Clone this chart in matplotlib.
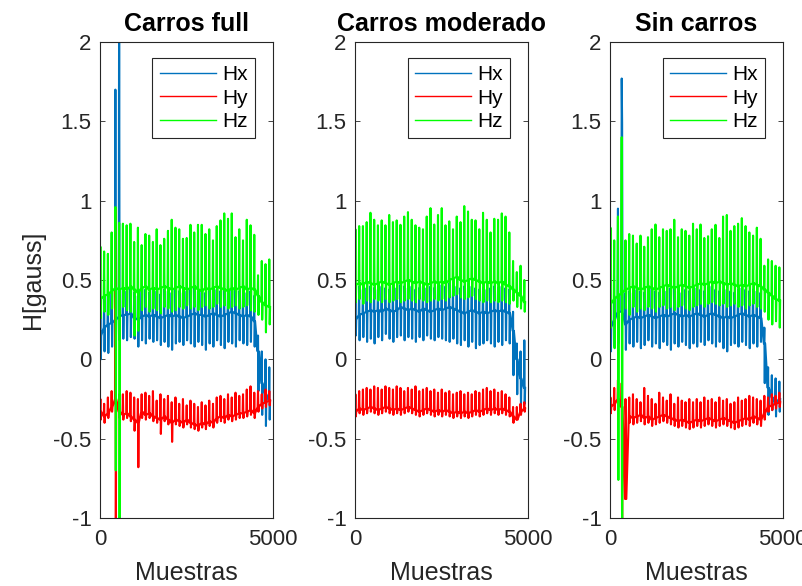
import matplotlib.pyplot as plt
import numpy as np

plt.rcParams['font.family'] = ['Liberation Sans', 'DejaVu Sans']
plt.rcParams['axes.unicode_minus'] = False

# Each series is stored per cycle: baseline, spike top and spike bottom.
# 46 cycles per run.

# --- Carros full ---
full_hx_base = [0.15, 0.20, 0.22, 0.23, 0.25, 0.27, 0.28, 0.28, 0.29, 0.26, 0.25, 0.27, 0.28, 0.27, 0.28, 0.27,
                0.26, 0.27, 0.28, 0.27, 0.28, 0.27, 0.26, 0.27, 0.28, 0.29, 0.28, 0.28, 0.27, 0.28, 0.29, 0.28,
                0.27, 0.28, 0.29, 0.30, 0.29, 0.28, 0.27, 0.28, 0.27, 0.24, 0.05, -0.15, -0.22, -0.26]
full_hx_pico = [0.35, 0.38, 0.40, 0.42, 1.70, 2.50, 0.44, 0.43, 0.45, 0.42, 0.40, 0.43, 0.44, 0.42, 0.45, 0.43,
                0.41, 0.44, 0.43, 0.42, 0.44, 0.43, 0.42, 0.43, 0.44, 0.45, 0.43, 0.44, 0.42, 0.44, 0.45, 0.44,
                0.43, 0.44, 0.46, 0.45, 0.44, 0.43, 0.44, 0.42, 0.43, 0.40, 0.15, 0.05, 0.00, -0.05]
full_hx_valle = [0.00, 0.05, 0.04, 0.08, 0.10, 0.12, 0.13, 0.12, 0.14, 0.13, 0.08, 0.12, 0.10, 0.13, 0.11, 0.12,
                 0.09, 0.11, 0.08, 0.06, 0.10, 0.11, 0.09, 0.12, 0.10, 0.08, 0.11, 0.09, 0.06, 0.10, 0.08, 0.12,
                 0.09, 0.07, 0.11, 0.10, 0.08, 0.12, 0.10, 0.09, 0.11, 0.08, -0.20, -0.35, -0.42, -0.38]
full_hy_base = [-0.33, -0.36, -0.34, -0.30, -0.25, -0.33, -0.35, -0.34, -0.36, -0.38, -0.40, -0.33, -0.35, -0.34,
                -0.36, -0.37, -0.38, -0.36, -0.38, -0.40, -0.38, -0.39, -0.40, -0.38, -0.40, -0.41, -0.42, -0.40,
                -0.41, -0.39, -0.40, -0.37, -0.36, -0.37, -0.35, -0.36, -0.35, -0.34, -0.34, -0.33, -0.32, -0.34,
                -0.30, -0.28, -0.27, -0.26]
full_hy_pico = [-0.25, -0.28, -0.24, -0.20, 0.95, -0.22, -0.22, -0.20, -0.21, -0.24, -0.25, -0.22, -0.21, -0.23,
                -0.20, -0.26, -0.22, -0.25, -0.23, -0.27, -0.24, -0.28, -0.25, -0.29, -0.26, -0.28, -0.30, -0.27,
                -0.29, -0.26, -0.28, -0.24, -0.23, -0.25, -0.22, -0.24, -0.21, -0.23, -0.22, -0.19, -0.17, -0.21,
                -0.20, -0.22, -0.19, -0.20]
full_hy_valle = [-0.38, -0.40, -0.37, -0.33, -1.20, -0.37, -0.38, -0.37, -0.39, -0.45, -0.68, -0.37, -0.38, -0.37,
                 -0.39, -0.40, -0.47, -0.39, -0.41, -0.52, -0.41, -0.42, -0.43, -0.41, -0.43, -0.44, -0.45, -0.43,
                 -0.44, -0.42, -0.43, -0.40, -0.39, -0.40, -0.38, -0.39, -0.38, -0.37, -0.37, -0.36, -0.35, -0.37,
                 -0.33, -0.31, -0.30, -0.29]
full_hz_base = [0.38, 0.40, 0.41, 0.43, 0.45, 0.44, 0.45, 0.44, 0.46, 0.44, 0.42, 0.45, 0.46, 0.44, 0.45, 0.44,
                0.45, 0.46, 0.45, 0.44, 0.45, 0.46, 0.45, 0.44, 0.45, 0.46, 0.44, 0.43, 0.45, 0.44, 0.45, 0.46,
                0.45, 0.44, 0.43, 0.45, 0.44, 0.45, 0.46, 0.44, 0.45, 0.44, 0.40, 0.36, 0.34, 0.33]
full_hz_pico = [0.71, 0.68, 0.665, 0.80, 0.96, 0.86, 0.855, 0.845, 0.855, 0.74, 0.83, 0.72, 0.79, 0.78, 0.74, 0.82,
                0.72, 0.76, 0.81, 0.88, 0.83, 0.82, 0.76, 0.765, 0.848, 0.80, 0.848, 0.848, 0.79, 0.82, 0.75, 0.84,
                0.876, 0.92, 0.886, 0.92, 0.77, 0.82, 0.75, 0.88, 0.845, 0.785, 0.53, 0.62, 0.60, 0.63]
full_hz_valle = [0.26, 0.30, 0.28, 0.32, -0.70, -1.20, 0.33, 0.31, 0.30, 0.15, 0.18, 0.31, 0.33, 0.30, 0.32, 0.31,
                 0.29, 0.33, 0.32, 0.30, 0.31, 0.33, 0.32, 0.34, 0.32, 0.33, 0.31, 0.33, 0.34, 0.32, 0.33, 0.35,
                 0.33, 0.34, 0.32, 0.33, 0.34, 0.32, 0.33, 0.34, 0.31, 0.30, 0.28, 0.25, 0.17, 0.22]

# --- Carros moderado ---
mod_hx_base = [0.25, 0.28, 0.29, 0.30, 0.31, 0.30, 0.31, 0.30, 0.32, 0.31, 0.30, 0.31, 0.33, 0.32, 0.31, 0.32,
               0.31, 0.30, 0.32, 0.31, 0.30, 0.31, 0.32, 0.31, 0.32, 0.33, 0.32, 0.31, 0.30, 0.29, 0.30, 0.31,
               0.30, 0.29, 0.30, 0.29, 0.30, 0.31, 0.30, 0.31, 0.30, 0.29, 0.18, 0.00, -0.12, -0.18]
mod_hx_pico = [0.45, 0.46, 0.44, 0.45, 0.46, 0.45, 0.44, 0.46, 0.45, 0.44, 0.46, 0.45, 0.47, 0.46, 0.45, 0.46,
               0.44, 0.45, 0.46, 0.45, 0.46, 0.45, 0.46, 0.47, 0.46, 0.48, 0.47, 0.46, 0.45, 0.46, 0.45, 0.46,
               0.45, 0.44, 0.45, 0.44, 0.45, 0.46, 0.45, 0.46, 0.45, 0.44, 0.30, 0.10, 0.05, 0.12]
mod_hx_valle = [0.15, 0.12, 0.14, 0.11, 0.13, 0.10, 0.14, 0.12, 0.16, 0.13, 0.11, 0.14, 0.15, 0.12, 0.14, 0.13,
                0.11, 0.14, 0.12, 0.15, 0.13, 0.12, 0.14, 0.13, 0.12, 0.11, 0.13, 0.10, 0.09, 0.12, 0.08, 0.11,
                0.07, 0.09, 0.10, 0.12, 0.10, 0.08, 0.11, 0.09, 0.12, 0.10, -0.10, -0.22, -0.30, -0.28]
mod_hy_base = [-0.33, -0.31, -0.32, -0.31, -0.30, -0.31, -0.32, -0.31, -0.30, -0.31, -0.32, -0.31, -0.32, -0.31,
               -0.30, -0.31, -0.32, -0.33, -0.32, -0.31, -0.32, -0.33, -0.32, -0.33, -0.32, -0.33, -0.34, -0.33,
               -0.34, -0.33, -0.34, -0.33, -0.32, -0.33, -0.32, -0.31, -0.32, -0.31, -0.32, -0.31, -0.32, -0.33,
               -0.36, -0.38, -0.33, -0.31]
mod_hy_pico = [-0.22, -0.20, -0.19, -0.18, -0.19, -0.17, -0.18, -0.19, -0.17, -0.18, -0.19, -0.17, -0.18, -0.20,
               -0.18, -0.19, -0.17, -0.20, -0.19, -0.18, -0.20, -0.19, -0.21, -0.19, -0.21, -0.20, -0.22, -0.21,
               -0.20, -0.22, -0.21, -0.22, -0.20, -0.21, -0.19, -0.18, -0.20, -0.19, -0.21, -0.20, -0.22, -0.24,
               -0.30, -0.30, -0.28, -0.27]
mod_hy_valle = [-0.36, -0.34, -0.35, -0.34, -0.33, -0.34, -0.35, -0.34, -0.33, -0.34, -0.35, -0.34, -0.35, -0.34,
                -0.33, -0.34, -0.35, -0.36, -0.35, -0.34, -0.35, -0.36, -0.35, -0.36, -0.35, -0.36, -0.37, -0.36,
                -0.37, -0.36, -0.37, -0.36, -0.35, -0.36, -0.35, -0.34, -0.35, -0.34, -0.35, -0.34, -0.35, -0.36,
                -0.40, -0.38, -0.35, -0.33]
mod_hz_base = [0.47, 0.48, 0.47, 0.49, 0.48, 0.47, 0.48, 0.49, 0.48, 0.47, 0.48, 0.49, 0.48, 0.49, 0.50, 0.49,
               0.48, 0.49, 0.48, 0.47, 0.48, 0.49, 0.48, 0.49, 0.48, 0.50, 0.51, 0.52, 0.50, 0.49, 0.50, 0.51,
               0.50, 0.49, 0.48, 0.49, 0.48, 0.49, 0.48, 0.49, 0.47, 0.46, 0.44, 0.42, 0.40, 0.36]
mod_hz_pico = [0.82, 0.84, 0.84, 0.865, 0.924, 0.88, 0.845, 0.876, 0.845, 0.91, 0.865, 0.876, 0.848, 0.90, 0.928,
               0.88, 0.845, 0.83, 0.82, 0.90, 0.953, 0.85, 0.91, 0.953, 0.845, 0.87, 0.82, 0.90, 0.865, 0.966,
               0.932, 0.88, 0.876, 0.82, 0.924, 0.88, 0.80, 0.886, 0.88, 0.92, 0.90, 0.80, 0.62, 0.55, 0.59, 0.50]
mod_hz_valle = [0.36, 0.38, 0.35, 0.37, 0.36, 0.38, 0.37, 0.36, 0.38, 0.36, 0.37, 0.38, 0.36, 0.37, 0.38, 0.37,
                0.36, 0.38, 0.37, 0.36, 0.37, 0.38, 0.37, 0.38, 0.37, 0.39, 0.40, 0.41, 0.39, 0.38, 0.39, 0.40,
                0.38, 0.37, 0.36, 0.37, 0.36, 0.37, 0.36, 0.37, 0.36, 0.35, 0.37, 0.33, 0.32, 0.30]

# --- Sin carros ---
sin_hx_base = [0.20, 0.25, 0.30, 0.30, 0.22, 0.25, 0.26, 0.27, 0.26, 0.27, 0.28, 0.27, 0.26, 0.27, 0.28, 0.27,
               0.28, 0.29, 0.28, 0.27, 0.28, 0.27, 0.28, 0.29, 0.28, 0.27, 0.28, 0.29, 0.28, 0.27, 0.26, 0.27,
               0.26, 0.27, 0.28, 0.29, 0.28, 0.27, 0.28, 0.27, 0.26, 0.10, -0.18, -0.24, -0.27, -0.25]
sin_hx_pico = [0.35, 0.40, 0.95, 1.77, 0.42, 0.43, 0.42, 0.44, 0.43, 0.42, 0.44, 0.45, 0.43, 0.42, 0.44, 0.43,
               0.45, 0.44, 0.43, 0.42, 0.44, 0.43, 0.44, 0.45, 0.44, 0.43, 0.45, 0.46, 0.44, 0.43, 0.42, 0.44,
               0.43, 0.42, 0.44, 0.45, 0.44, 0.43, 0.44, 0.43, 0.42, 0.20, -0.05, -0.10, -0.12, -0.14]
sin_hx_valle = [0.05, 0.08, 0.10, 1.49, 0.06, 0.10, 0.08, 0.11, 0.07, 0.09, 0.12, 0.08, 0.10, 0.07, 0.11, 0.09,
                0.06, 0.10, 0.08, 0.11, 0.09, 0.07, 0.10, 0.08, 0.11, 0.09, 0.12, 0.10, 0.08, 0.11, 0.07, 0.05,
                0.09, 0.10, 0.08, 0.11, 0.09, 0.07, 0.10, 0.08, 0.11, -0.15, -0.35, -0.32, -0.36, -0.33]
sin_hy_base = [-0.30, -0.28, -0.25, -0.30, -0.88, -0.36, -0.37, -0.36, -0.35, -0.37, -0.36, -0.38, -0.37, -0.36,
               -0.35, -0.36, -0.37, -0.38, -0.39, -0.38, -0.39, -0.40, -0.39, -0.38, -0.39, -0.38, -0.37, -0.38,
               -0.39, -0.38, -0.37, -0.38, -0.39, -0.40, -0.39, -0.38, -0.37, -0.38, -0.36, -0.37, -0.38, -0.34,
               -0.30, -0.29, -0.28, -0.27]
sin_hy_pico = [-0.24, -0.18, -0.13, -0.15, -0.25, -0.24, -0.22, -0.25, -0.27, -0.18, -0.23, -0.25, -0.28, -0.21,
               -0.24, -0.26, -0.22, -0.28, -0.24, -0.26, -0.27, -0.25, -0.27, -0.25, -0.27, -0.24, -0.26, -0.25,
               -0.27, -0.24, -0.26, -0.25, -0.28, -0.27, -0.24, -0.26, -0.25, -0.23, -0.24, -0.25, -0.26, -0.23,
               -0.24, -0.22, -0.23, -0.21]
sin_hy_valle = [-0.34, -0.32, -0.30, -1.20, -0.36, -0.40, -0.41, -0.40, -0.39, -0.41, -0.40, -0.42, -0.41, -0.40,
                -0.39, -0.40, -0.41, -0.42, -0.43, -0.42, -0.43, -0.44, -0.43, -0.42, -0.43, -0.42, -0.41, -0.42,
                -0.43, -0.42, -0.41, -0.42, -0.43, -0.44, -0.43, -0.42, -0.41, -0.42, -0.40, -0.41, -0.42, -0.38,
                -0.33, -0.32, -0.31, -0.30]
sin_hz_base = [0.35, 0.38, 0.40, 0.42, 0.44, 0.45, 0.46, 0.45, 0.44, 0.45, 0.46, 0.45, 0.44, 0.45, 0.46, 0.47,
               0.46, 0.45, 0.46, 0.47, 0.46, 0.45, 0.46, 0.47, 0.48, 0.47, 0.48, 0.49, 0.48, 0.49, 0.48, 0.47,
               0.48, 0.47, 0.46, 0.47, 0.46, 0.47, 0.48, 0.47, 0.46, 0.44, 0.42, 0.40, 0.38, 0.37]
sin_hz_pico = [0.83, 0.75, 0.90, 1.40, 0.75, 0.79, 0.78, 0.73, 0.78, 0.71, 0.77, 0.82, 0.85, 0.77, 0.82, 0.81,
               0.82, 0.88, 0.77, 0.82, 0.81, 0.78, 0.855, 0.82, 0.85, 0.765, 0.776, 0.82, 0.848, 0.765, 0.90,
               0.91, 0.81, 0.84, 0.855, 0.89, 0.84, 0.80, 0.78, 0.83, 0.76, 0.59, 0.63, 0.62, 0.59, 0.58]
sin_hz_valle = [0.20, 0.07, -0.76, -1.20, 0.32, 0.28, 0.33, 0.30, 0.32, 0.31, 0.33, 0.32, 0.30, 0.33, 0.34, 0.32,
                0.33, 0.31, 0.33, 0.34, 0.32, 0.31, 0.33, 0.34, 0.35, 0.33, 0.35, 0.36, 0.35, 0.34, 0.35, 0.33,
                0.34, 0.35, 0.33, 0.34, 0.32, 0.34, 0.35, 0.33, 0.32, 0.30, 0.25, 0.22, 0.24, 0.20]

titulos = ['Carros full', 'Carros moderado', 'Sin carros']
corridas = [
    [(full_hx_base, full_hx_pico, full_hx_valle),
     (full_hy_base, full_hy_pico, full_hy_valle),
     (full_hz_base, full_hz_pico, full_hz_valle)],
    [(mod_hx_base, mod_hx_pico, mod_hx_valle),
     (mod_hy_base, mod_hy_pico, mod_hy_valle),
     (mod_hz_base, mod_hz_pico, mod_hz_valle)],
    [(sin_hx_base, sin_hx_pico, sin_hx_valle),
     (sin_hy_base, sin_hy_pico, sin_hy_valle),
     (sin_hz_base, sin_hz_pico, sin_hz_valle)],
]
etiquetas = ['Hx', 'Hy', 'Hz']
colores = ['#0072BD', '#FF0000', '#00FF00']
periodo = 108.7                      # samples per cycle
desfase = np.array([0, 12, 24, 36])  # sample offsets of the readings inside a cycle


def serie(base, pico, valle):
    base = np.asarray(base)
    # baseline, spike top, spike bottom, back to baseline
    y = np.column_stack([base, pico, valle, base]).ravel()
    x = (np.arange(len(base))[:, None] * periodo + desfase[None, :]).ravel()
    return x, y


fig = plt.figure(figsize=(8.03, 5.86), dpi=100)
izquierdas = [0.1245, 0.4421, 0.7597]
gris = '0.15'

for k, izq in enumerate(izquierdas):
    ax = fig.add_axes([izq, 0.116, 0.2150, 0.8123])
    for (b, p, v), lab, col in zip(corridas[k], etiquetas, colores):
        x, y = serie(b, p, v)
        ax.plot(x, y, color=col, lw=1.5, label=lab)
    ax.set_xlim(0, 5000)
    ax.set_ylim(-1, 2)
    ax.set_xticks([0, 5000])
    ax.set_yticks([-1, -0.5, 0, 0.5, 1, 1.5, 2])
    ax.set_yticklabels(['-1', '-0.5', '0', '0.5', '1', '1.5', '2'])
    ax.tick_params(direction='in', length=3.6, width=0.6, colors=gris,
                   labelsize=16, top=True, right=True, pad=6)
    ax.tick_params(axis='x', pad=8)
    for s in ax.spines.values():
        s.set_color(gris)
        s.set_linewidth(0.8)
    ax.set_title(titulos[k], fontsize=18, fontweight='bold', pad=8)
    ax.set_xlabel('Muestras', fontsize=18, color=gris, labelpad=7.5)
    if k == 0:
        ax.set_ylabel('H[gauss]', fontsize=18, color=gris, labelpad=6)
    leg = ax.legend(loc='upper right', bbox_to_anchor=(0.899, 0.966), borderaxespad=0,
                    fontsize=15, fancybox=False, framealpha=1, edgecolor=gris,
                    handlelength=2.7, handletextpad=0.3, labelspacing=0.2, borderpad=0.35)
    leg.get_frame().set_linewidth(0.8)
    for ln in leg.get_lines():
        ln.set_linewidth(1.0)

fig.savefig('out.png', dpi=100)
